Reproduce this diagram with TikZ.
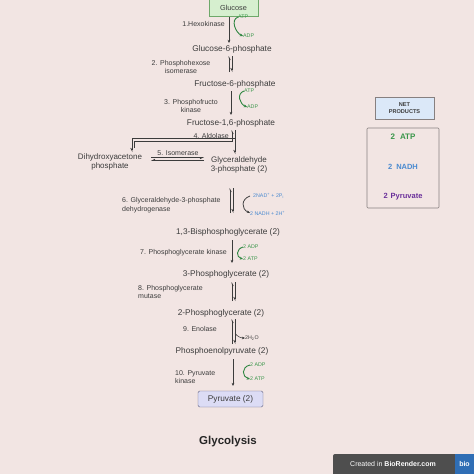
\documentclass[tikz,border=0pt]{standalone}
\usepackage{fontspec}
\setmainfont{Liberation Sans}
\usetikzlibrary{arrows.meta}
\definecolor{bg}{RGB}{242,229,227}
\definecolor{txt}{RGB}{60,60,60}
\definecolor{grn}{RGB}{46,133,64}
\definecolor{grntxt}{RGB}{58,150,74}
\definecolor{blu}{RGB}{74,138,208}
\definecolor{pur}{RGB}{106,47,154}
\definecolor{glufill}{RGB}{214,239,207}
\definecolor{gludraw}{RGB}{110,168,106}
\definecolor{pyrfill}{RGB}{220,220,245}
\definecolor{pyrdraw}{RGB}{100,100,130}
\definecolor{netfill}{RGB}{219,232,248}
\definecolor{boxgray}{RGB}{135,128,128}
\definecolor{badge}{RGB}{78,78,78}
\definecolor{bioblue}{RGB}{47,110,181}
\begin{document}
\begin{tikzpicture}[x=1pt,y=-1pt,
  cmp/.style={font=\fontsize{8.3}{10}\selectfont, text=txt, inner sep=0pt, align=center},
  lab/.style={font=\fontsize{7}{8.4}\selectfont, text=txt, inner sep=0pt},
  cof/.style={font=\fontsize{5.3}{6}\selectfont, inner sep=0pt, anchor=west},
  rxn/.style={draw=txt, line width=0.7pt, -{Stealth[length=3.2pt,width=2.8pt]}},
  eqf/.style={draw=txt, line width=0.7pt, -{Straight Barb[harpoon,swap,length=2.6pt,width=2.6pt]}},
  eqb/.style={draw=txt, line width=0.7pt, -{Straight Barb[harpoon,swap,length=2.6pt,width=2.6pt]}},
  garr/.style={draw=grn, line width=0.9pt, -{Stealth[length=3.2pt,width=2.8pt]}},
  karr/.style={draw=txt, line width=0.75pt, -{Stealth[length=3.2pt,width=2.8pt]}}]
\fill[bg] (0,0) rectangle (474,474);
\useasboundingbox (0,0) rectangle (474,474);

% compounds
\node[draw=gludraw, fill=glufill, minimum width=49pt, minimum height=17pt, inner sep=0pt,
  font=\fontsize{7.3}{8}\selectfont, text=txt] (glc) at (233.5,7.5) {Glucose};
\node[cmp] (g6p) at (232,49) {Glucose-6-phosphate};
\node[cmp] (f6p) at (235,84) {Fructose-6-phosphate};
\node[cmp] (f16p) at (231,123) {Fructose-1,6-phosphate};
\node[cmp, font=\fontsize{8}{8.6}\selectfont] (dhap) at (110,162) {Dihydroxyacetone\\phosphate};
\node[cmp, font=\fontsize{8}{9.6}\selectfont] (gap) at (239,165) {Glyceraldehyde\\3-phosphate (2)};
\node[cmp] (bpg) at (228,232) {1,3-Bisphosphoglycerate (2)};
\node[cmp] (pg3) at (226,274) {3-Phosphoglycerate (2)};
\node[cmp] (pg2) at (221,313) {2-Phosphoglycerate (2)};
\node[cmp] (pep) at (222,351) {Phosphoenolpyruvate (2)};
\node[draw=pyrdraw, fill=pyrfill, rounded corners=1.5pt, minimum width=65pt, minimum height=16pt,
  inner sep=0pt, font=\fontsize{8.3}{10}\selectfont, text=txt] (pyr) at (230.5,399) {Pyruvate (2)};

% enzyme labels
\node[lab, anchor=east] (e1) at (225,24) {1.Hexokinase};
\node[lab, align=center] (e2) at (181,67) {2. Phosphohexose\\isomerase};
\node[lab, align=center] (e3) at (191,106) {3. Phosphofructo\\kinase};
\node[lab, anchor=east] (e4) at (229,136) {4. Aldolase};
\node[lab] (e5) at (178,153) {5. Isomerase};
\node[lab, align=left, anchor=west] (e6) at (122,205) {6. Glyceraldehyde-3-phosphate\\dehydrogenase};
\node[lab, anchor=east] (e7) at (227,253) {7. Phosphoglycerate kinase};
\node[lab, align=left, anchor=west] (e8) at (138,292) {8. Phosphoglycerate\\mutase};
\node[lab] (e9) at (200,329) {9. Enolase};
\node[lab, align=left, anchor=west] (e10) at (175,377) {10. Pyruvate\\kinase};

% step 1
\coordinate (s1a) at (229,17);
\coordinate (s1b) at (229,43);
\draw[rxn] (s1a) -- (s1b);
\node[cof, text=grntxt] (atp1) at (238,17) {ATP};
\node[cof, text=grntxt] (adp1) at (243,36) {ADP};
\draw[garr] (atp1.west) .. controls +(-8,3) and +(-7,-3) .. (adp1.west);

% step 2
\coordinate (s2a) at (229,56); \coordinate (s2b) at (229,72);
\coordinate (s2c) at (232,56); \coordinate (s2d) at (232,72);
\draw[eqb] (s2b) -- (s2a);
\draw[eqf] (s2c) -- (s2d);

% step 3
\coordinate (s3a) at (231,91);
\coordinate (s3b) at (231,115);
\draw[rxn] (s3a) -- (s3b);
\node[cof, text=grntxt] (atp3) at (244,91) {ATP};
\node[cof, text=grntxt] (adp3) at (247,107) {ADP};
\draw[garr] (atp3.west) .. controls +(-8,3) and +(-7,-3) .. (adp3.west);

% step 4 aldolase
\coordinate (a1) at (235,130); \coordinate (a2) at (235,154);
\coordinate (a3) at (235,138); \coordinate (a4) at (132,138); \coordinate (a5) at (132,152);
\coordinate (a6) at (134,148); \coordinate (a7) at (134,141); \coordinate (a8) at (232,141); \coordinate (a9) at (232,130);
\draw[eqf] (a1) -- (a2);
\draw[eqf] (a3) -- (a4) -- (a5);
\draw[eqf] (a6) -- (a7) -- (a8) -- (a9);

% step 5 isomerase
\coordinate (i1) at (151,157.5); \coordinate (i2) at (204,157.5);
\coordinate (i3) at (204,160.5); \coordinate (i4) at (151,160.5);
\draw[eqb] (i1) -- (i2);
\draw[eqb] (i3) -- (i4);

% step 6
\coordinate (s6a) at (230,188); \coordinate (s6b) at (230,213);
\coordinate (s6c) at (233,188); \coordinate (s6d) at (233,213);
\draw[eqb] (s6b) -- (s6a);
\draw[eqf] (s6c) -- (s6d);
\node[cof, text=blu] (nad) at (253,196) {2NAD\textsuperscript{+} + 2P\textsubscript{i}};
\node[cof, text=blu] (nadh) at (250,213) {2 NADH + 2H\textsuperscript{+}};
\draw[karr] ([xshift=-3pt]nad.west) .. controls +(-9,3) and +(-9,-4) .. (nadh.west);

% step 7
\coordinate (s7a) at (232,240);
\coordinate (s7b) at (232,263);
\draw[rxn] (s7a) -- (s7b);
\node[cof, text=grntxt] (adp7) at (243,247) {2 ADP};
\node[cof, text=grntxt] (atp7) at (243,259) {2 ATP};
\draw[garr] (adp7.west) .. controls +(-7,2) and +(-7,-2) .. (atp7.west);

% step 8
\coordinate (s8a) at (232,282); \coordinate (s8b) at (232,301);
\coordinate (s8c) at (235,282); \coordinate (s8d) at (235,301);
\draw[eqb] (s8b) -- (s8a);
\draw[eqf] (s8c) -- (s8d);

% step 9
\coordinate (s9a) at (232,319); \coordinate (s9b) at (232,344);
\coordinate (s9c) at (235,319); \coordinate (s9d) at (235,344);
\draw[eqb] (s9b) -- (s9a);
\draw[eqf] (s9c) -- (s9d);
\node[cof, text=txt] (water) at (245,338) {2H\textsubscript{2}O};
\coordinate (w0) at (235,333);
\draw[karr, line width=0.55pt] (w0) .. controls +(2,4) and +(-3,0) .. (water.west);

% step 10
\coordinate (s10a) at (233,359);
\coordinate (s10b) at (233,386);
\draw[rxn] (s10a) -- (s10b);
\node[cof, text=grntxt] (adp10) at (250,365) {2 ADP};
\node[cof, text=grntxt] (atp10) at (250,379) {2 ATP};
\draw[garr] (adp10.west) .. controls +(-9,2) and +(-8,-2) .. (atp10.west);

% title
\node[font=\fontsize{11.5}{13}\selectfont\bfseries, text=black!85, inner sep=0pt] (title) at (228,442) {Glycolysis};

% net products
\node[draw=boxgray, fill=netfill, minimum width=59pt, minimum height=22pt, inner sep=0pt,
  align=center, font=\fontsize{5.6}{7}\selectfont\bfseries, text=txt] (net) at (404.5,108) {NET\\PRODUCTS};
\node[draw=boxgray, line width=0.6pt, rounded corners=1pt, minimum width=72pt, minimum height=80pt, inner sep=0pt] (prod) at (403,168) {};
\node[font=\fontsize{8}{9}\selectfont\bfseries, text=grntxt, inner sep=0pt] (p1) at (403,137) {2\hspace{5pt}ATP};
\node[font=\fontsize{7.5}{9}\selectfont\bfseries, text=blu, inner sep=0pt] (p2) at (403,167) {2\hspace{4pt}NADH};
\node[font=\fontsize{7.5}{9}\selectfont\bfseries, text=pur, inner sep=0pt] (p3) at (403,197) {2\hspace{3pt}Pyruvate};

% badge
\fill[badge, rounded corners=2pt] (333,454) rectangle (480,480);
\fill[bioblue] (455,454) rectangle (474,474);
\node[font=\fontsize{7}{8}\selectfont, text=white, inner sep=0pt] (cr) at (393,464) {Created in \textbf{BioRender.com}};
\node[font=\fontsize{7}{8}\selectfont\bfseries, text=white, inner sep=0pt] (bio) at (464.5,464) {bio};
\end{tikzpicture}
\end{document}
